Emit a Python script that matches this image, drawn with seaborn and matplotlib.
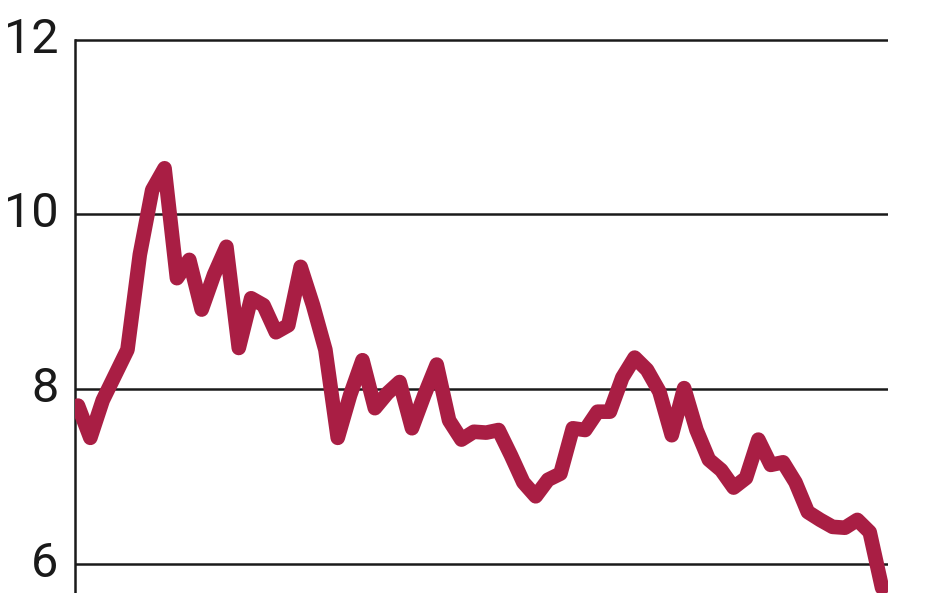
import numpy as np
import pandas as pd
import matplotlib
matplotlib.use("Agg")
import matplotlib.pyplot as plt
import seaborn as sns


# ------------------------------#
# Data
# ------------------------------#
period = list(range(66))

rate = [
    7.81, 7.44, 7.87, 8.16, 8.45, 9.54, 10.28, 10.53, 9.27, 9.48,
    8.91, 9.31, 9.63, 8.47, 9.04, 8.96, 8.65, 8.73, 9.40, 8.96,
    8.45, 7.44, 7.93, 8.33, 7.78, 7.95, 8.08, 7.55, 7.93, 8.28,
    7.64, 7.42, 7.51, 7.50, 7.53, 7.24, 6.93, 6.77, 6.96, 7.03,
    7.55, 7.53, 7.74, 7.74, 8.13, 8.36, 8.22, 7.97, 7.47, 8.01,
    7.53, 7.19, 7.07, 6.87, 6.98, 7.42, 7.13, 7.16, 6.93, 6.59,
    6.50, 6.42, 6.41, 6.50, 6.36, 5.72,
]

y_ticks = [6, 8, 10, 12]
y_labels = ["6", "8", "10", "12"]

df = pd.DataFrame({"period": period, "rate": rate})

# ------------------------------#
# Style
# ------------------------------#
sns.set_style("white")
plt.rcParams["font.family"] = ["Liberation Sans Narrow", "Roboto", "DejaVu Sans"]

LINE_COLOR = "#A91E44"
GRID_COLOR = "#1a1a1a"

fig = plt.figure(figsize=(9.48, 5.93), dpi=100)
ax = fig.add_axes([75 / 948, 0, (888 - 75) / 948, 558 / 593])

sns.lineplot(
    data=df, x="period", y="rate", ax=ax,
    color=LINE_COLOR, linewidth=10.5, solid_joinstyle="round",
    solid_capstyle="round", zorder=3,
)

ax.set_xlim(-0.24, 65.48)
ax.set_ylim(5.662, 12.057)

ax.set_yticks(y_ticks)
ax.set_yticklabels(y_labels)
ax.set_xticks([])
ax.set_xlabel("")
ax.set_ylabel("")

ax.grid(axis="y", color=GRID_COLOR, linewidth=1.8)
ax.grid(axis="x", visible=False)
ax.set_axisbelow(True)

for side in ["top", "right", "bottom"]:
    ax.spines[side].set_visible(False)
ax.spines["left"].set_color(GRID_COLOR)
ax.spines["left"].set_linewidth(1.8)
ax.spines["left"].set_bounds(5.662, 12)

ax.tick_params(axis="y", length=0, pad=12, labelsize=35, labelcolor="#1a1a1a")
for lbl in ax.get_yticklabels():
    lbl.set_verticalalignment("center")

fig.savefig("out.png", dpi=100)
